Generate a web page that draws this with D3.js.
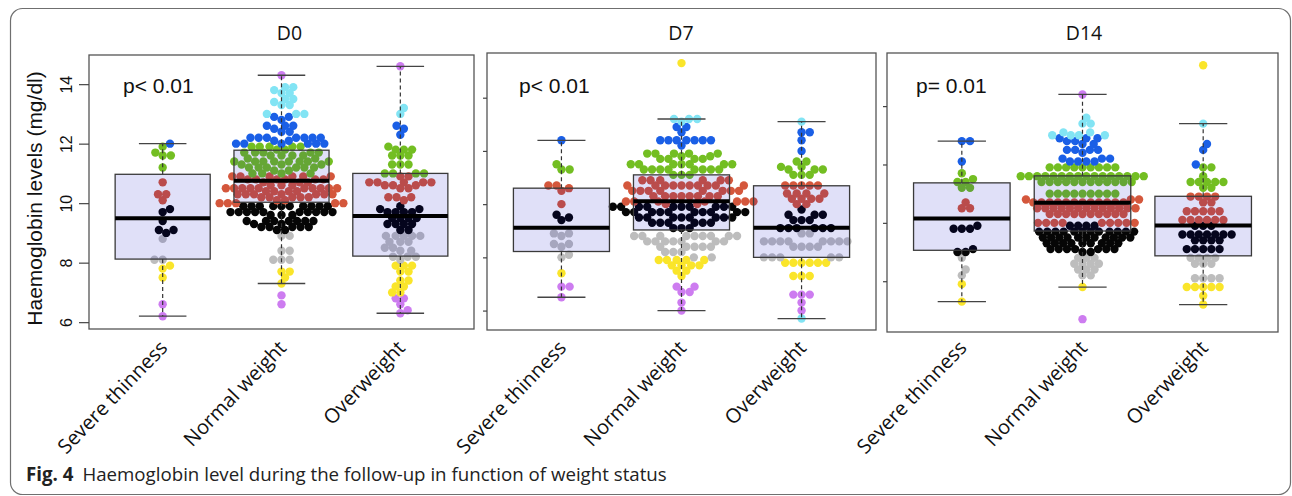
<!DOCTYPE html>
<html>
<head>
<meta charset="utf-8">
<script src="https://cdn.jsdelivr.net/npm/d3@7"></script>
<style>
  body { margin: 0; background: #fff; }
</style>
</head>
<body>
<svg id="chart" width="1292" height="496"></svg>
<script>
(function () {

    const categories = ["Severe thinness", "Normal weight", "Overweight"];
    const days = ["D0", "D7", "D14"];
    const pLabels = ["p< 0.01", "p< 0.01", "p= 0.01"];
    const yTicks = [6, 8, 10, 12, 14];
    const yDomains = [[5.77, 14.98], [5.27, 15.68], [6.26, 15.82]];

    // haemoglobin values as [value, number of children]
    const d0Severe = [[12.0,1],[11.9,1],[11.7,1],[11.6,2],[11.2,1],[10.7,1],[10.3,2],[10.1,1],[9.8,1],[9.7,1],[9.4,1],
        [9.1,2],[9.0,1],[8.8,1],[8.1,2],[7.9,1],[7.8,1],[7.5,1],[6.6,1],[6.2,1]];
    const d0Normal = [[14.3,1],
        [13.9,2],[13.8,1],[13.7,2],[13.5,2],[13.4,1],[13.3,2],[13.0,3],
        [12.9,2],[12.8,1],[12.6,3],[12.5,1],[12.4,2],[12.2,7],[12.1,2],[12.0,6],
        [11.9,5],[11.8,2],[11.7,5],[11.6,4],[11.5,2],[11.4,8],[11.3,3],[11.2,6],[11.1,2],[11.0,4],
        [10.9,6],[10.8,6],[10.7,3],[10.6,3],[10.5,10],[10.4,4],[10.3,7],[10.2,5],[10.1,2],[10.0,5],
        [9.9,10],[9.7,10],[9.6,3],[9.4,7],[9.3,2],[9.2,5],[9.1,2],
        [8.9,2],[8.4,2],[8.1,3],
        [7.7,2],[7.5,1],[7.3,1],
        [6.9,1],[6.6,1]];
    const d0Over = [[14.6,1],[13.2,1],[13.0,1],[12.6,1],[12.5,1],[12.3,1],
        [11.9,1],[11.8,3],[11.6,3],[11.3,3],[11.0,4],
        [10.9,2],[10.7,5],[10.6,3],[10.5,2],[10.2,3],[10.1,1],
        [9.9,1],[9.8,2],[9.7,4],[9.5,4],[9.3,4],[9.1,2],
        [8.9,5],[8.7,3],[8.5,2],[8.4,2],[8.2,3],[8.1,1],
        [7.9,3],[7.7,2],[7.4,2],[7.2,2],[7.0,2],
        [6.8,2],[6.6,1],[6.4,1],[6.3,1]];

    const d7Severe = [[12.4,1],[11.5,1],[11.3,2],[10.7,2],[10.6,1],[10.5,1],[10.0,1],[9.6,1],[9.5,1],[9.4,1],
        [8.9,2],[8.8,1],[8.5,2],[8.4,1],[8.1,1],[8.0,1],[7.4,1],[6.9,2],[6.5,1]];
    const d7Normal = [[15.3,1],
        [13.2,3],[13.1,1],
        [12.9,2],[12.7,1],[12.4,7],[12.2,1],
        [11.9,5],[11.8,2],[11.7,4],[11.5,7],[11.3,8],[11.1,3],
        [10.9,6],[10.7,10],[10.5,8],[10.3,8],[10.1,7],[10.0,2],
        [9.9,10],[9.7,10],[9.5,8],[9.3,6],[9.1,3],
        [8.8,9],[8.6,7],[8.4,5],[8.2,3],[8.0,2],
        [7.9,5],[7.7,4],[7.5,2],[7.3,1],
        [6.9,2],[6.7,2],[6.3,1],[6.0,1]];
    const d7Over = [[13.1,1],[12.7,2],[12.4,1],[12.0,1],
        [11.6,2],[11.4,2],[11.3,3],[11.1,3],
        [10.7,5],[10.4,4],[10.2,4],[10.0,2],
        [9.8,1],[9.6,3],[9.4,3],[9.1,6],
        [8.9,2],[8.6,8],[8.4,4],[8.0,5],
        [7.8,6],[7.3,3],
        [6.6,3],[6.3,1],[6.0,1],[5.7,1]];

    const d14Severe = [[12.8,2],[12.1,1],[11.7,1],[11.5,1],[11.4,2],[11.2,2],[10.7,1],[10.5,2],[9.9,1],[9.8,3],
        [9.1,1],[9.0,2],[8.8,1],[8.4,1],[8.2,1],[7.9,1],[7.3,1]];
    const d14Normal = [[14.4,1],
        [13.6,1],[13.4,2],[13.1,2],[13.0,4],
        [12.9,3],[12.8,2],[12.7,2],[12.5,4],[12.4,1],[12.2,3],[12.1,4],
        [11.9,9],[11.6,16],[11.4,12],[11.0,9],
        [10.8,3],[10.7,12],[10.5,13],[10.3,10],[10.0,9],
        [9.9,4],[9.7,12],[9.5,11],[9.3,9],[9.1,7],[9.0,2],
        [8.8,3],[8.6,4],[8.4,3],[8.2,2],
        [7.8,1],[6.7,1]];
    const d14Over = [[15.4,1],[13.4,1],[12.7,1],[12.5,1],[12.0,1],
        [11.9,2],[11.6,1],[11.4,5],[11.2,2],
        [10.9,4],[10.7,2],[10.4,5],[10.1,6],
        [9.9,3],[9.6,7],[9.4,4],[9.1,5],
        [8.8,4],[8.6,3],[8.1,4],
        [7.8,5],[7.5,1],[7.2,1]];

    // boxplot statistics: [Q1, median, Q3, lower whisker, upper whisker]
    const d0Boxes = [[8.12, 9.49, 10.97, 6.2, 12.0], [10.03, 10.75, 11.78, 7.3, 14.3], [8.22, 9.57, 11.0, 6.3, 14.6]];
    const d7Boxes = [[8.22, 9.11, 10.6, 6.5, 12.4], [9.03, 10.11, 11.1, 6.0, 13.2], [8.0, 9.11, 10.69, 5.7, 13.1]];
    const d14Boxes = [[9.06, 10.15, 11.37, 7.3, 12.8], [9.72, 10.69, 11.61, 7.8, 14.4], [8.87, 9.91, 10.91, 7.2, 13.4]];

    // colour of a dot depends on the g/dl band (6-7, 7-8, ... cycling every 8)
    const bandColors = ["#cd7cf0", "#fae52a", "#bdbdbd", "#060606", "#d4573c", "#73be22", "#1a5fe6", "#82e4f4"];
    const dotColor = v => bandColors[((Math.floor(v + 1e-9) - 6) % 8 + 8) % 8];

    const panels = [
        { day: days[0], p: pLabels[0], groups: [d0Severe, d0Normal, d0Over], boxes: d0Boxes, domain: yDomains[0],
          x0: 89, x1: 474, y0: 55, y1: 329, titleX: 289.5, pX: 123, tick: 10, labels: true },
        { day: days[1], p: pLabels[1], groups: [d7Severe, d7Normal, d7Over], boxes: d7Boxes, domain: yDomains[1],
          x0: 487, x1: 876, y0: 53, y1: 330, titleX: 681, pX: 519, tick: 4, labels: false },
        { day: days[2], p: pLabels[2], groups: [d14Severe, d14Normal, d14Over], boxes: d14Boxes, domain: yDomains[2],
          x0: 887, x1: 1278, y0: 53, y1: 332, titleX: 1084, pX: 916, tick: 4, labels: false },
    ];

    const svg = d3.select('#chart');
    const sans = "'Liberation Sans', Arial, sans-serif";
    const open = "'Open Sans', 'Noto Sans', sans-serif";

    // outer frame of the figure
    svg.append('rect')
        .attr('x', 10.5).attr('y', 8.5).attr('width', 1280).attr('height', 486).attr('rx', 12)
        .attr('fill', 'none').attr('stroke', '#6f6f6f').attr('stroke-width', 1.2);

    const expand = pairs => pairs.flatMap(([v, n]) => Array(n).fill(v));

    // swarm layout, each point goes to the free spot closest to the centre line
    function swarm(values, y, ax, by) {
        const placed = [];
        values.slice().sort((a, b) => a - b).forEach(v => {
            const py = y(v);
            const near = placed.filter(p => Math.abs(p.y - py) < by);
            const cands = [0];
            near.forEach(p => {
                const dx = ax * Math.sqrt(1 - ((p.y - py) / by) ** 2);
                cands.push(p.x + dx, p.x - dx);
            });
            cands.sort((a, b) => Math.abs(a) - Math.abs(b) || b - a);
            const x = cands.find(c => near.every(p => ((c - p.x) / ax) ** 2 + ((py - p.y) / by) ** 2 >= 0.999));
            placed.push({ v: v, x: x, y: py });
        });
        return placed;
    }

    panels.forEach(panel => {
        const x = d3.scaleLinear().domain([0.38, 3.62]).range([panel.x0, panel.x1]);
        const y = d3.scaleLinear().domain(panel.domain).range([panel.y1, panel.y0]);
        const g = svg.append('g');
        const unit = x(1) - x(0);

        // dots
        panel.groups.forEach((pairs, i) => {
            const cx = x(i + 1);
            g.append('g').selectAll('circle')
                .data(swarm(expand(pairs), y, 8.2, 6.6))
                .enter()
                .append('circle')
                .attr('cx', d => cx + d.x)
                .attr('cy', d => d.y)
                .attr('r', 4.2)
                .attr('fill', d => dotColor(d.v));
        });

        // boxplots drawn over the dots
        panel.boxes.forEach((b, i) => {
            const cx = x(i + 1);
            const [q1, med, q3, lo, hi] = b;
            g.append('line').attr('x1', cx).attr('x2', cx).attr('y1', y(q3)).attr('y2', y(hi))
                .attr('stroke', '#333').attr('stroke-width', 1.2).attr('stroke-dasharray', '4,3');
            g.append('line').attr('x1', cx).attr('x2', cx).attr('y1', y(q1)).attr('y2', y(lo))
                .attr('stroke', '#333').attr('stroke-width', 1.2).attr('stroke-dasharray', '4,3');
            [lo, hi].forEach(w => {
                g.append('line').attr('x1', cx - 0.2 * unit).attr('x2', cx + 0.2 * unit)
                    .attr('y1', y(w)).attr('y2', y(w))
                    .attr('stroke', '#444').attr('stroke-width', 1.3);
            });
            g.append('rect')
                .attr('x', cx - 0.4 * unit).attr('width', 0.8 * unit)
                .attr('y', y(q3)).attr('height', y(q1) - y(q3))
                .attr('fill', 'rgb(0,0,200)').attr('fill-opacity', 0.12)
                .attr('stroke', '#3a3a3a').attr('stroke-width', 1.3);
            g.append('line').attr('x1', cx - 0.4 * unit).attr('x2', cx + 0.4 * unit)
                .attr('y1', y(med)).attr('y2', y(med))
                .attr('stroke', '#000').attr('stroke-width', 4);
        });

        // plot frame
        g.append('rect')
            .attr('x', panel.x0).attr('y', panel.y0)
            .attr('width', panel.x1 - panel.x0).attr('height', panel.y1 - panel.y0)
            .attr('fill', 'none').attr('stroke', '#555').attr('stroke-width', 1.3);

        // y axis ticks
        const axis = d3.axisLeft(y)
            .tickValues(yTicks.filter(t => t >= panel.domain[0] && t <= panel.domain[1]))
            .tickSize(panel.tick)
            .tickFormat(panel.labels ? d3.format('d') : '');
        const ax = g.append('g').attr('transform', `translate(${panel.x0},0)`).call(axis);
        ax.select('.domain').remove();
        ax.selectAll('.tick line').attr('stroke', '#444').attr('stroke-width', 1.2);
        ax.selectAll('.tick text')
            .attr('font-family', sans).attr('font-size', 16).attr('fill', '#111')
            .attr('text-anchor', 'middle')
            .attr('x', null).attr('dy', null)
            .attr('transform', `translate(${72 - panel.x0},0) rotate(-90)`);

        // title and p value
        svg.append('text')
            .attr('x', panel.titleX).attr('y', 40)
            .attr('text-anchor', 'middle')
            .attr('font-family', open).attr('font-size', 19.5).attr('fill', '#111')
            .text(panel.day);
        svg.append('text')
            .attr('x', panel.pX).attr('y', 92.7)
            .attr('font-family', sans).attr('font-size', 21).attr('fill', '#111')
            .text(panel.p);

        // rotated category names
        categories.forEach((c, i) => {
            svg.append('text')
                .attr('transform', `translate(${x(i + 1) + 6},349) rotate(-46)`)
                .attr('text-anchor', 'end')
                .attr('font-family', open).attr('font-size', 20).attr('fill', '#111')
                .text(c);
        });
    });

    // y axis title
    svg.append('text')
        .attr('transform', 'translate(42,198.5) rotate(-90)')
        .attr('text-anchor', 'middle')
        .attr('font-family', sans).attr('font-size', 21).attr('fill', '#111')
        .text('Haemoglobin levels (mg/dl)');

    // caption
    const cap = svg.append('text')
        .attr('x', 26).attr('y', 481)
        .attr('font-family', open).attr('font-size', 18.7).attr('fill', '#222');
    cap.append('tspan').attr('font-weight', 'bold').text('Fig. 4');
    cap.append('tspan').attr('dx', 9).text('Haemoglobin level during the follow-up in function of weight status');

})();
</script>
</body>
</html>
